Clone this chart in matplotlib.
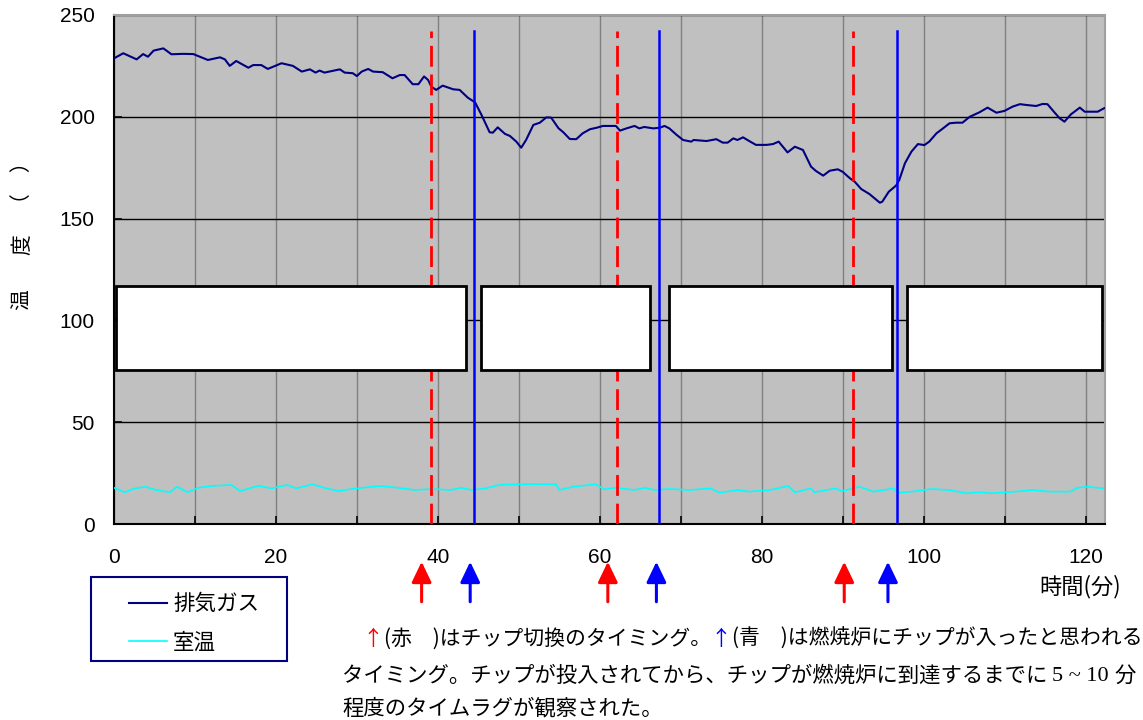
import matplotlib
matplotlib.use('Agg')
import matplotlib.pyplot as plt
from matplotlib.patches import Rectangle

plt.rcParams['font.family'] = ['Liberation Sans', 'Noto Sans CJK JP', 'DejaVu Sans']
JP = ['Noto Sans CJK JP', 'DejaVu Sans']

# 排気ガス温度 (時間[分], 温度)
gas_t = [0, 1.15, 2.8, 3.6, 4.2, 4.9, 6.1, 7.1, 8.5, 9.8, 10.6, 11.6, 13.1, 13.7, 14.3,
         15.1, 16.6, 17.2, 18.2, 19.0, 19.9, 20.7, 22.1, 23.2, 24.2, 24.9, 25.4, 26.0,
         27.9, 28.5, 29.5, 30.0, 30.6, 31.4, 32.0, 33.2, 33.6, 34.4, 35.3, 35.9, 36.9,
         37.6, 38.3, 38.8, 39.2, 39.8, 40.6, 41.9, 42.7, 43.7, 44.6, 45.4, 46.4, 46.8,
         47.4, 48.3, 48.9, 49.7, 50.3, 50.9, 51.8, 52.6, 53.4, 54.0, 54.9, 55.5, 56.3,
         57.1, 57.9, 58.8, 59.6, 60.4, 61.6, 62.0, 62.5, 63.3, 64.3, 64.9, 65.5, 66.6,
         67.4, 68.0, 68.6, 69.5, 70.3, 71.3, 71.6, 73.2, 74.4, 75.2, 75.8, 76.5, 77.0,
         77.7, 78.5, 79.3, 80.6, 81.4, 82.1, 83.2, 84.1, 85.1, 86.1, 86.7, 87.6, 88.4,
         89.4, 90.0, 90.9, 91.5, 92.3, 93.3, 94.6, 94.9, 95.7, 96.6, 97.0, 97.7, 98.5,
         99.3, 100.1, 100.7, 101.6, 102.4, 103.2, 104.0, 104.8, 105.7, 106.9, 107.9,
         109.0, 110.0, 111.0, 111.9, 112.7, 113.9, 114.7, 115.3, 116.2, 116.8, 117.4,
         118.2, 119.3, 119.9, 121.5, 122.3]
gas_v = [228.7, 231.2, 228.2, 230.8, 229.5, 232.5, 233.6, 230.7, 230.9, 230.8, 229.5,
         227.9, 229.2, 228.2, 225.0, 227.4, 224.1, 225.4, 225.4, 223.5, 225.0, 226.3,
         225.0, 222.2, 223.3, 221.7, 222.7, 221.7, 223.3, 221.7, 221.4, 220.0, 222.2,
         223.5, 222.2, 221.9, 220.9, 218.9, 220.5, 220.5, 216.0, 216.0, 219.8, 218.1,
         214.8, 213.2, 215.3, 213.5, 213.2, 209.4, 207.1, 200.9, 192.4, 192.2, 194.8,
         191.6, 190.6, 187.8, 184.8, 188.6, 196.0, 197.1, 199.7, 199.6, 194.4, 192.4,
         189.1, 189.0, 191.9, 193.9, 194.6, 195.5, 195.5, 195.5, 193.2, 194.3, 195.5,
         194.3, 195.0, 194.3, 194.6, 195.5, 194.3, 191.1, 188.6, 187.8, 188.6, 188.1,
         189.0, 187.3, 187.3, 189.4, 188.6, 189.9, 188.0, 186.2, 186.2, 186.6, 187.8,
         182.5, 185.3, 183.7, 175.5, 173.4, 171.1, 173.5, 174.2, 173.0, 169.8, 168.1,
         164.5, 162.1, 157.8, 158.3, 163.2, 166.2, 169.0, 177.2, 182.9, 186.6, 186.1,
         187.8, 191.9, 194.3, 196.8, 197.1, 197.1, 200.0, 202.2, 204.5, 202.0, 202.9,
         205.0, 206.2, 205.8, 205.3, 206.3, 206.2, 202.0, 199.3, 197.6, 201.2, 204.5,
         202.5, 202.5, 204.2]

# 室温
room_t = [0, 1.3, 2.6, 3.9, 5.2, 6.9, 7.8, 9.1, 10.4, 12.1, 14.5, 15.6, 17.8, 19.5,
          21.4, 22.5, 24.5, 26.0, 27.7, 29.9, 32.9, 35.1, 37.2, 39.4, 41.6, 42.9, 44.2,
          45.9, 47.6, 49.8, 52.0, 54.6, 55.0, 56.7, 59.5, 60.6, 61.9, 64.3, 65.6, 66.8,
          68.6, 71.1, 73.7, 74.8, 77.1, 78.4, 81.0, 83.3, 84.1, 86.1, 86.5, 89.1, 89.9,
          92.1, 93.8, 96.3, 96.8, 98.5, 101.0, 103.2, 105.3, 107.0, 108.3, 111.3, 113.4,
          115.6, 118.1, 119.0, 120.3, 122.2]
room_v = [17.8, 15.6, 17.5, 18.3, 16.7, 15.6, 18.3, 15.6, 17.8, 18.7, 19.2, 16.2, 18.8,
          17.5, 19.2, 17.5, 19.5, 17.8, 16.2, 17.5, 18.7, 17.8, 16.7, 17.2, 16.7, 17.8,
          16.7, 17.5, 19.2, 19.5, 19.6, 19.5, 16.7, 18.3, 19.5, 17.0, 17.8, 16.7, 17.8,
          16.7, 17.2, 16.7, 17.5, 15.4, 16.7, 15.9, 16.7, 18.7, 15.6, 17.5, 15.6, 17.5,
          16.2, 18.3, 15.9, 17.5, 15.4, 15.9, 17.2, 16.7, 15.1, 15.6, 15.1, 15.9, 16.7,
          15.9, 15.9, 17.8, 18.3, 17.5]

# チップ切換 (赤) と 燃焼炉投入 (青) のタイミング
switch_t = [39.1, 62.1, 91.3]
enter_t = [44.5, 67.3, 96.75]
arrow_red_t = [38.0, 61.0, 90.2]
arrow_blue_t = [44.0, 67.0, 95.6]
vline_top = 242

# 白いボックス (開始, 終了) と 縦範囲
boxes = [(0.25, 43.5), (45.3, 66.2), (68.6, 96.1), (97.9, 122.0)]
box_lo, box_hi = 75.6, 116.9

fig = plt.figure(figsize=(11.43, 7.2), dpi=100)
ax = fig.add_axes([0.0997, 0.2722, 0.867, 0.707])
ax.set_facecolor('#c0c0c0')
ax.set_axisbelow(True)

ax.plot(gas_t, gas_v, color='#000080', lw=1.5, label='排気ガス', zorder=3)
ax.plot(room_t, room_v, color='#00ffff', lw=1.2, label='室温', zorder=3)

for x in switch_t:
    ax.plot([x, x], [0, vline_top], color='#ff0000', lw=2, dashes=(7.5, 2.8), zorder=4)
for x in enter_t:
    ax.plot([x, x], [0, vline_top], color='#0000ff', lw=1.8, zorder=4)

for x0, x1 in boxes:
    ax.add_patch(Rectangle((x0, box_lo), x1 - x0, box_hi - box_lo, facecolor='white',
                           edgecolor='black', lw=2, zorder=5))

ax.set_xlim(0, 122.4)
ax.set_ylim(0, 250)
ax.set_xticks(range(0, 121, 20))
ax.set_xticks(range(10, 121, 20), minor=True)
ax.set_yticks(range(0, 251, 50))
ax.grid(axis='x', which='both', color='#808080', lw=1)
ax.grid(axis='y', which='major', color='black', lw=1)
ax.tick_params(axis='both', which='both', direction='in', length=6, width=1.2,
               labelsize=15, color='black')
ax.tick_params(axis='x', pad=17)
ax.tick_params(axis='y', pad=14)
for s in ['left', 'bottom']:
    ax.spines[s].set_color('black')
    ax.spines[s].set_linewidth(1.5)
for s in ['top', 'right']:
    ax.spines[s].set_color('#a0a0a0')
    ax.spines[s].set_linewidth(1.5)

ax.set_xlabel('時間(分)', fontsize=16, family=JP, ha='right')
ax.xaxis.set_label_coords(1.016, -0.099)

# 縦軸ラベル
fig.text(0.0192, 0.5833, '温', rotation=90, fontsize=15, family=JP, ha='center', va='center')
fig.text(0.0192, 0.6597, '度', rotation=90, fontsize=15, family=JP, ha='center', va='center')
fig.text(0.0192, 0.7458, '（　）', rotation=90, fontsize=15, family=JP, ha='center', va='center')

# 矢印
for xs, c in [(arrow_red_t, '#ff0000'), (arrow_blue_t, '#0000ff')]:
    for x in xs:
        ax.annotate('', xy=(x, -0.0741), xytext=(x, -0.1527),
                    xycoords=('data', 'axes fraction'), annotation_clip=False,
                    arrowprops=dict(arrowstyle='-|>,head_length=1.25,head_width=0.6',
                                    mutation_scale=10, lw=2.2, color=c,
                                    shrinkA=0, shrinkB=0))

# 凡例 (枠は別に描く)
fig.add_artist(Rectangle((0.0797, 0.0819), 0.1713, 0.1164, transform=fig.transFigure,
                         facecolor='white', edgecolor='#000080', lw=1.5, zorder=1))
leg = fig.legend(loc='upper left', bbox_to_anchor=(0.1129, 0.1762),
                 prop={'family': JP, 'size': 15.5}, frameon=False,
                 handlelength=1.75, handletextpad=0.3, labelspacing=0.75,
                 borderpad=0, borderaxespad=0)
leg.set_zorder(2)

# 説明文
t = fig.text(0.2992, 0.1125, '　', fontsize=15, family=JP, va='center')
pieces = [('↑', '#ff0000'), ('(赤　)はチップ切換のタイミング。', 'black'),
          ('↑', '#0000ff'), ('(青　)は燃焼炉にチップが入ったと思われる', 'black')]
for s, c in pieces:
    t = ax.annotate(s, xy=(1, 0.5), xycoords=t, fontsize=15, family=JP, color=c,
                    va='center', ha='left', annotation_clip=False)

fs = 15.4
t = fig.text(0.2992, 0.0611, 'タイミング。チップが投入されてから、チップが燃焼炉に到達するまでに ',
             fontsize=fs, family=JP, va='center')
t = ax.annotate('5 ~ 10 ', xy=(1, 0.5), xycoords=t, fontsize=16, family='Liberation Serif',
                va='center', ha='left', annotation_clip=False)
ax.annotate('分', xy=(1, 0.5), xycoords=t, fontsize=fs, family=JP,
            va='center', ha='left', annotation_clip=False)
fig.text(0.2992, 0.0153, '程度のタイムラグが観察された。', fontsize=fs, family=JP, va='center')

fig.savefig('out.png', dpi=100)
